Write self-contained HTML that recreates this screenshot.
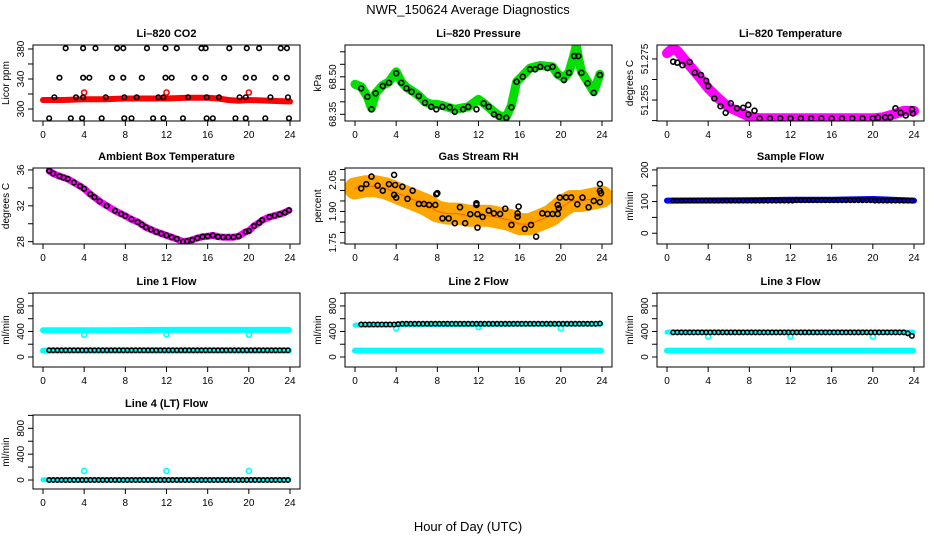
<!DOCTYPE html>
<html><head><meta charset="utf-8"><style>
html,body{margin:0;padding:0;background:#fff;}
svg{display:block;font-family:"Liberation Sans",sans-serif;}
</style></head><body>
<svg id="chart" width="936" height="540" viewBox="0 0 936 540">
<text x="468" y="14" text-anchor="middle" font-size="13">NWR_150624  Average Diagnostics</text>
<text x="468" y="531" text-anchor="middle" font-size="13">Hour of Day (UTC)</text>
</svg>
<script>
// ---------- data ----------
const avgHours = [0.6,1.0,1.4,1.8,2.2,2.6,3.0,3.4,3.8,4.2,4.6,5.0,5.4,5.8,6.2,6.6,7.0,7.4,7.8,8.2,8.6,9.0,9.4,9.8,10.2,10.6,11.0,11.4,11.8,12.2,12.6,13.0,13.4,13.8,14.2,14.6,15.0,15.4,15.8,16.2,16.6,17.0,17.4,17.8,18.2,18.6,19.0,19.4,19.8,20.2,20.6,21.0,21.4,21.8,22.2,22.6,23.0,23.4,23.8];

const co2Hours = [2.2,3.9,5.1,7.2,7.8,10.1,11.9,13.0,15.4,15.8,18.1,19.8,21.0,23.1,23.7, 1.6,3.9,4.5,6.7,7.8,9.6,11.9,12.5,14.7,15.8,17.6,19.7,20.5,22.6,23.7, 1.1,3.2,3.9,6.1,7.9,9.1,11.2,11.7,14.1,15.9,17.1,19.1,19.7,22.1,23.8, 0.6,2.7,3.8,5.7,7.9,8.6,10.7,11.7,13.6,15.9,16.5,18.7,19.7,21.6,23.9];
const co2Vals = [381,381,381,381,381,381,381,381,381,381,381,381,381,381,381, 341.7,341.7,341.7,341.7,341.7,341.7,341.7,341.7,341.7,341.7,341.7,341.7,341.7,341.7,341.7, 315.6,315.6,315.6,315.6,315.6,315.6,315.6,315.6,315.6,315.6,315.6,315.6,315.6,315.6,315.6, 287.6,287.6,287.6,287.6,287.6,287.6,287.6,287.6,287.6,287.6,287.6,287.6,287.6,287.6,287.6];
const co2BandHours = [0,2,4,6,8,10,12,14,16,17,18,19,20,22,24];
const co2BandVals = [312,312,313,313,314,314,314,315,315,314,312,311,312,311,310];
const co2DipHours = [4,12,20];
const co2DipVals = [322,322,322];

const presHours = [0.6,1.2,1.6,2.0,2.7,3.3,4.0,4.5,5.0,5.5,6.2,6.8,7.4,7.9,8.5,9.2,9.7,10.5,11.0,11.8,12.5,13.0,13.5,14.0,14.7,15.2,15.7,16.3,17.0,17.5,18.0,18.7,19.2,19.7,20.3,20.8,21.3,21.7,22.0,22.6,23.2,23.8];
const presVals = [68.454,68.42,68.37,68.434,68.463,68.476,68.514,68.476,68.454,68.44,68.423,68.396,68.38,68.37,68.38,68.378,68.36,68.37,68.38,68.37,68.394,68.38,68.35,68.34,68.336,68.378,68.48,68.5,68.53,68.53,68.54,68.535,68.54,68.507,68.487,68.516,68.583,68.583,68.516,68.474,68.436,68.507];
const presBandHours = [0,0.6,1.2,1.6,2.0,2.7,3.3,4.0,4.5,5.0,5.5,6.2,6.8,7.4,7.9,8.5,9.7,11.0,12.0,12.5,13.5,14.0,14.7,15.2,15.7,16.3,17.0,18.0,19.2,19.7,20.3,20.8,21.3,21.5,21.7,22.0,22.6,23.2,23.8];
const presBandVals = [68.47,68.46,68.42,68.375,68.434,68.466,68.48,68.52,68.48,68.458,68.445,68.425,68.4,68.39,68.39,68.385,68.37,68.38,68.41,68.395,68.36,68.345,68.34,68.385,68.48,68.505,68.535,68.545,68.54,68.51,68.495,68.52,68.59,68.625,68.58,68.52,68.48,68.44,68.51];

const tempHours = [0.6,1.0,1.5,2.2,2.7,3.3,3.8,4.0,4.6,5.2,5.7,6.2,6.8,7.4,7.9,7.9,8.5,9.0,10.0,11.0,12.0,13.0,14.0,15.0,16.0,17.0,18.0,19.0,20.0,20.5,21.2,21.7,22.2,22.7,23.2,23.8,23.9];
const tempVals = [51.2737,51.2732,51.272,51.2735,51.2683,51.2672,51.2644,51.2618,51.2558,51.252,51.2488,51.2534,51.251,51.2512,51.2526,51.248,51.2498,51.2461,51.2461,51.2461,51.2461,51.2461,51.2461,51.2461,51.2461,51.2461,51.2461,51.2461,51.2461,51.2464,51.2466,51.2466,51.251,51.2488,51.2475,51.2505,51.2485];
const tempBandHours = [0,0.5,1,2,3,4,5,6,7,8,9,12,16,20,21,22,23,24];
const tempBandVals = [51.2778,51.280,51.279,51.2729,51.267,51.2607,51.2558,51.2514,51.2493,51.2469,51.2461,51.2461,51.2461,51.2461,51.2466,51.248,51.2497,51.2497];

const ambHours = [0.6,1.0,1.6,2.0,2.4,3.0,3.6,4.0,4.6,5.0,5.5,6.2,7.0,7.6,8.0,8.6,9.2,9.6,10.0,10.5,11.0,11.5,12.0,12.5,13.0,13.6,14.0,14.5,15.0,15.5,16.0,16.5,17.0,17.5,18.0,18.5,19.0,19.7,20.0,20.5,21.0,21.3,22.0,22.5,23.0,23.5,23.9];
const ambVals = [35.9,35.6,35.3,35.15,35.0,34.6,34.2,33.9,33.3,32.95,32.5,32.0,31.45,31.1,30.87,30.5,30.2,29.9,29.6,29.35,29.1,28.9,28.7,28.5,28.3,28.0,28.05,28.2,28.4,28.55,28.6,28.7,28.55,28.5,28.5,28.5,28.6,29.1,29.2,29.75,30.1,30.4,30.75,30.9,31.05,31.25,31.5];

const rhHours = [0.6,1.1,1.6,2.2,2.7,3.3,3.8,3.9,3.8,4.0,4.6,5.1,5.6,6.2,6.7,7.2,7.8,7.9,8.0,8.5,9.1,9.7,10.2,10.7,11.2,11.8,11.8,11.9,11.9,12.4,13.0,13.5,14.1,14.6,15.2,15.8,15.8,15.9,16.5,17.1,17.6,18.2,18.7,19.2,19.7,19.7,19.8,19.9,20.5,21.0,21.6,22.1,22.7,23.2,23.8,23.8,23.9,23.8];
const rhVals = [2.01,2.03,2.066,2.023,1.999,2.03,2.074,2.026,1.979,1.966,2.018,1.96,1.999,1.936,1.936,1.931,1.931,1.982,1.987,1.867,1.867,1.844,1.92,1.844,1.887,1.939,1.931,1.887,1.823,1.874,1.904,1.891,1.888,1.913,1.836,1.891,1.875,1.923,1.817,1.836,1.78,1.891,1.888,1.888,1.888,1.931,1.915,1.966,1.967,1.967,1.934,1.966,1.92,1.95,2.031,1.998,1.987,1.944];
const rhBandHours = [0,1,2,3,4,5,6,7,8,9,10,11,12,13,14,15,16,17,18,19,20,21,22,23,24];
const rhBandVals = [2.01,2.02,2.02,2.01,1.99,1.97,1.95,1.93,1.9,1.89,1.89,1.88,1.88,1.88,1.87,1.86,1.84,1.84,1.86,1.88,1.92,1.95,1.95,1.96,1.97];

const sampleBandHours = [0,8,12,16,20,24];
const sampleBandVals = [103,104,106,106,108,103];
const sampleVals = [103,103,103,103,103,103,103,103,103,103,103,103,103,103,103,103,103,103,103,103,103,103,103,103,103,103,103,103,103,103,104,104,104,104,104,104,104,104,104,104,104,104,104,104,104,104,104,104,104,103,103,103,103,103,103,103,103,103,103];

const line1High = [420,420,425,425,425];
const line1Low = [100,100,100,100,100];
const flowBandHours = [0,6,12,18,23.9];
const line1Black = [105,105,105,105,105,105,105,105,105,105,105,105,105,105,105,105,105,105,105,105,105,105,105,105,105,105,105,105,105,105,105,105,105,105,105,105,105,105,105,105,105,105,105,105,105,105,105,105,105,105,105,105,105,105,105,105,105,105,105];
const dipHours = [4,12,20];
const line1Dips = [350,355,350];

const line2Black = [510,510,510,510,510,510,510,510,510,515,520,520,520,520,520,520,520,520,520,520,520,520,520,520,520,520,520,520,520,520,520,520,520,520,520,520,520,520,520,520,520,520,520,520,520,520,520,520,520,520,520,520,520,520,520,520,520,520,525];
const line2Low = [100,100,100,100,100];
const line2High = [500,505,510,515,515];
const line2Dips = [450,470,450];

const line3Black = [385,385,385,385,385,385,385,385,385,385,385,385,385,385,385,385,385,385,385,385,385,385,385,385,385,385,385,385,385,385,385,385,385,385,385,385,385,385,385,385,385,385,385,385,385,385,385,385,385,385,385,385,385,385,385,385,385,370,330];
const line3Low = [100,100,100,100,100];
const line3High = [390,390,390,390,390];
const line3Dips = [320,320,320];

const line4Black = [0,0,0,0,0,0,0,0,0,0,0,0,0,0,0,0,0,0,0,0,0,0,0,0,0,0,0,0,0,0,0,0,0,0,0,0,0,0,0,0,0,0,0,0,0,0,0,0,0,0,0,0,0,0,0,0,0,0,0];
const line4Low = [5,5,5,5,5];
const line4Bumps = [140,140,140];

const xTicks = [0,4,8,12,16,20,24];

// ---------- drawing ----------
const NS = "http://www.w3.org/2000/svg";
const svg = document.getElementById("chart");
function mk(tag, attrs, parent){
  const e = document.createElementNS(NS, tag);
  for (const k in attrs) e.setAttribute(k, attrs[k]);
  (parent||svg).appendChild(e);
  return e;
}
const colLeft = [33,345,657];
const rowTop = [45,168,293,415];
const rowH = [76,76,74,74];
const W = 267;

function panel(name, col, row, ymin, ymax, yTicks, yLabels, title, ylab){
  const g = mk("g", {});
  
  
  const L = colLeft[col], T = rowTop[row], H = rowH[row];
  const sx = h => L + 10 + h * (247/24);
  const sy = v => T + H - (v - ymin) / (ymax - ymin) * H;
  const t = mk("text", {x: L + W/2, y: T - 8, "text-anchor":"middle", "font-size":"11", "font-weight":"bold"}, g);
  t.textContent = title;
  
  
  const yl = mk("text", {x:0, y:0, "text-anchor":"middle", "font-size":"10", transform:`translate(${L-24},${T+H/2}) rotate(-90)`}, g);
  yl.textContent = ylab;
  
  
  xTicks.forEach(v => {
    mk("line", {x1:sx(v), x2:sx(v), y1:T+H, y2:T+H+5, stroke:"#000"}, g);
    const tx = mk("text", {x:sx(v), y:T+H+17, "text-anchor":"middle", "font-size":"10"}, g);
    tx.textContent = v;
    
    
  });
  yTicks.forEach((v,i) => {
    const y = sy(v);
    mk("line", {x1:L-5, x2:L, y1:y, y2:y, stroke:"#000"}, g);
    if (yLabels[i] !== "") {
      const ty = mk("text", {x:0, y:0, "text-anchor":"middle", "font-size":"10", transform:`translate(${L-9},${y}) rotate(-90)`}, g);
      ty.textContent = yLabels[i];
      
      
    }
  });
  const clipId = name + "-clip";
  const cp = mk("clipPath", {id: clipId}, g);
  mk("rect", {x:L, y:T, width:W, height:H}, cp);
  const plot = mk("g", {"clip-path": `url(#${clipId})`}, g);
  const box = mk("rect", {x:L, y:T, width:W, height:H, fill:"none", stroke:"#000", "stroke-width":"1"}, g);
  
  
  return {
    band(hours, vals, color, width, label){
      const pts = hours.map((h,i) => sx(h).toFixed(1) + "," + sy(vals[i]).toFixed(1)).join(" ");
      const p = mk("polyline", {points: pts, fill:"none", stroke: color, "stroke-width": width, "stroke-linejoin":"round", "stroke-linecap":"round"}, plot);
      
      
    },
    pts(hours, vals, color, r, label){
      hours.forEach((h,i) => {
        const c = mk("circle", {cx: sx(h), cy: sy(vals[i]), r: r, fill:"none", stroke: color, "stroke-width":"1.6"}, plot);
        
        
      });
    }
  };
}

// CO2
let p = panel("co2", 0, 0, 284, 385.3, [300,320,340,360,380], ["300","","340","","380"], "Li\u2013820 CO2", "Licor ppm");
p.band(co2BandHours, co2BandVals, "#ff0000", 6, "red-band");
p.pts(co2DipHours, co2DipVals, "#ff0000", 2.5, "red-point");
p.pts(co2Hours, co2Vals, "#000", 2.3, "avg-point");

// Pressure
p = panel("pressure", 1, 0, 68.3232, 68.6272, [68.35,68.40,68.45,68.50,68.55,68.60], ["68.35","","","68.50","",""], "Li\u2013820 Pressure", "kPa");
p.band(presBandHours, presBandVals, "#00e000", 9, "green-band");
p.pts(presHours, presVals, "#000", 2.5, "avg-point");

// Temperature
p = panel("licor-temp", 2, 0, 51.2448, 51.2818, [51.245,51.255,51.265,51.275], ["","51.255","","51.275"], "Li\u2013820 Temperature", "degrees C");
p.band(tempBandHours, tempBandVals, "#ff00ff", 10, "magenta-band");
p.pts(tempHours, tempVals, "#000", 2.5, "avg-point");

// Ambient
p = panel("ambient-temp", 0, 1, 27.74, 36.22, [28,30,32,34,36], ["28","","32","","36"], "Ambient Box Temperature", "degrees C");
p.band(ambHours, ambVals, "#ff00ff", 7, "magenta-band");
p.pts(ambHours, ambVals, "#000", 2.3, "avg-point");

// RH
p = panel("rh", 1, 1, 1.745, 2.107, [1.75,1.80,1.85,1.90,1.95,2.00,2.05,2.10], ["1.75","","","1.90","","","2.05",""], "Gas Stream RH", "percent");
p.band(rhBandHours, rhBandVals, "#ffa500", 22, "orange-band");
p.band(rhBandHours, rhBandVals, "#ff6000", 1, "orange-band-core");
p.pts(rhHours, rhVals, "#000", 2.5, "avg-point");

// Sample flow
p = panel("sample-flow", 2, 1, -34, 206, [0,50,100,150,200], ["0","","100","","200"], "Sample Flow", "ml/min");
p.band(sampleBandHours, sampleBandVals, "#0000ff", 6, "blue-band");
p.pts(avgHours, sampleVals, "#000", 2.2, "avg-point");

const fT = [0,200,400,600,800,1000], fL = ["0","","400","","800",""];
// Line 1
p = panel("line1-flow", 0, 2, -157, 1003, fT, fL, "Line 1 Flow", "ml/min");
p.band(flowBandHours, line1High, "#00ffff", 6, "cyan-high-band");
p.band(flowBandHours, line1Low, "#00ffff", 6, "cyan-low-band");
p.pts(dipHours, line1Dips, "#00ffff", 2.5, "cyan-point");
p.pts(avgHours, line1Black, "#000", 2.2, "avg-point");
// Line 2
p = panel("line2-flow", 1, 2, -157, 1003, fT, fL, "Line 2 Flow", "ml/min");
p.band(flowBandHours, line2High, "#00ffff", 5, "cyan-high-band");
p.band(flowBandHours, line2Low, "#00ffff", 6, "cyan-low-band");
p.pts(dipHours, line2Dips, "#00ffff", 2.5, "cyan-point");
p.pts(avgHours, line2Black, "#000", 2.2, "avg-point");
// Line 3
p = panel("line3-flow", 2, 2, -157, 1003, fT, fL, "Line 3 Flow", "ml/min");
p.band(flowBandHours, line3High, "#00ffff", 5, "cyan-high-band");
p.band(flowBandHours, line3Low, "#00ffff", 6, "cyan-low-band");
p.pts(dipHours, line3Dips, "#00ffff", 2.5, "cyan-point");
p.pts(avgHours, line3Black, "#000", 2.2, "avg-point");
// Line 4
p = panel("line4-flow", 0, 3, -139, 1006, fT, fL, "Line 4 (LT) Flow", "ml/min");
p.band(flowBandHours, line4Low, "#00ffff", 5, "cyan-band");
p.pts(dipHours, line4Bumps, "#00ffff", 2.5, "cyan-point");
p.pts(avgHours, line4Black, "#000", 2.2, "avg-point");
</script>
</body></html>
